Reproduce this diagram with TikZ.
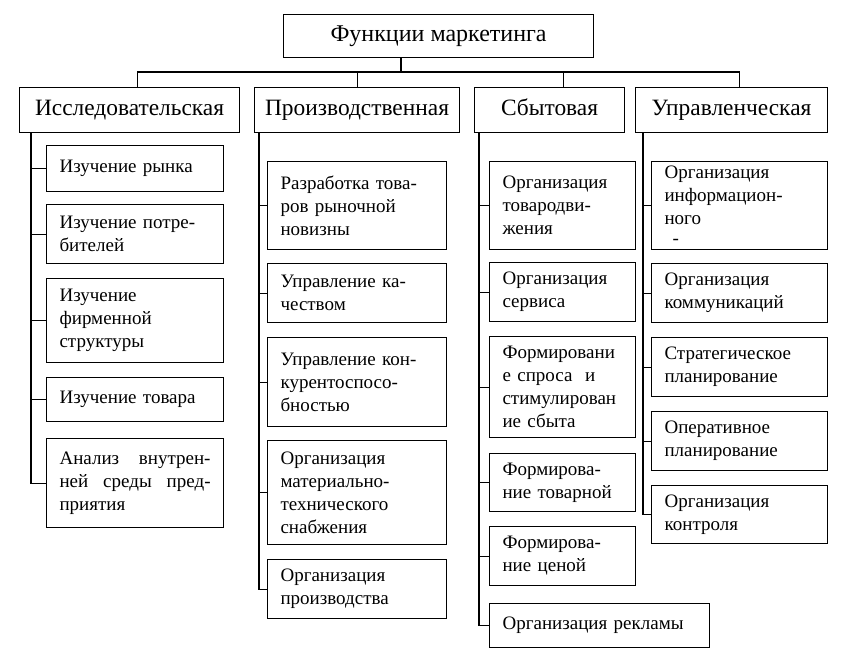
\documentclass[tikz,border=0pt]{standalone}
\usepackage{fontspec}
\setmainfont{Liberation Serif}
\usepackage{tikz}

\begin{document}
\begin{tikzpicture}[x=1pt, y=-1pt,
    hbox/.style={draw, line width=1.1pt, anchor=north west, inner sep=0pt, align=center,
      text height=16pt, text depth=5pt},
    cbox/.style={draw, line width=1.1pt, anchor=north west, inner xsep=13pt, inner ysep=2pt,
      align=left, font=\fontsize{19}{23}\selectfont},
    colA/.style={cbox, text width=151pt},
    colB/.style={cbox, text width=153pt},
    colC/.style={cbox, text width=120pt},
    colD/.style={cbox, text width=150pt},
    link/.style={line width=1.1pt}]
    \useasboundingbox (0,0) rectangle (846,656);

    % top level
    \node[hbox, minimum width=310pt, minimum height=43pt, font=\fontsize{24}{28}\selectfont]
      (top) at (283,14) {Функции маркетинга};

    % functions
    \node[hbox, minimum width=220pt, minimum height=45pt, font=\fontsize{23.4}{27}\selectfont]
      (res) at (19,87) {Исследовательская};
    \node[hbox, minimum width=205pt, minimum height=45pt, font=\fontsize{23.4}{27}\selectfont]
      (prod) at (254,87) {Производственная};
    \node[hbox, minimum width=150pt, minimum height=45pt, font=\fontsize{23.4}{27}\selectfont]
      (sale) at (474,87) {Сбытовая};
    \node[hbox, minimum width=192pt, minimum height=45pt, font=\fontsize{23.4}{27}\selectfont]
      (man) at (635,87) {Управленческая};

    % research
    \node[colA, minimum height=46pt] (a1) at (46,145) {Изучение рынка};
    \node[colA, minimum height=59pt] (a2) at (46,204) {Изучение потре-\\бителей};
    \node[colA, minimum height=84pt] (a3) at (46,278) {Изучение\\фирменной\\структуры};
    \node[colA, minimum height=44pt] (a4) at (46,377) {Изучение товара};
    \node[colA, minimum height=89pt] (a5) at (46,438)
      {Анализ\hfill внутрен-\\ней\hfill среды\hfill пред-\\приятия};

    % production
    \node[colB, minimum height=88pt] (b1) at (267,161) {Разработка това-\\ров рыночной\\новизны};
    \node[colB, minimum height=59pt] (b2) at (267,263) {Управление ка-\\чеством};
    \node[colB, minimum height=89pt] (b3) at (267,337) {Управление кон-\\курентоспосо-\\бностью};
    \node[colB, minimum height=104pt] (b4) at (267,440)
      {Организация\\материально-\\технического\\снабжения};
    \node[colB, minimum height=59pt] (b5) at (267,559) {Организация\\производства};

    % sales
    \node[colC, minimum height=88pt] (c1) at (489,161) {Организация\\товародви-\\жения};
    \node[colC, minimum height=59pt] (c2) at (489,262) {Организация\\сервиса};
    \node[colC, minimum height=101pt] (c3) at (489,336)
      {Формировани\\е спроса\ \ и\\стимулирован\\ие сбыта};
    \node[colC, minimum height=58pt] (c4) at (489,453) {Формирова-\\ние товарной};
    \node[colC, minimum height=59pt] (c5) at (489,526) {Формирова-\\ние ценой};
    \node[colC, text width=194pt, minimum height=44pt] (c6) at (489,603) {Организация рекламы};

    % management
    \node[colD, minimum height=88pt] (d1) at (651,161)
      {Организация\\информацион-\\ного\\[-3pt]\hspace*{8pt}-};
    \node[colD, minimum height=59pt] (d2) at (651,263) {Организация\\коммуникаций};
    \node[colD, minimum height=59pt] (d3) at (651,337) {Стратегическое\\планирование};
    \node[colD, minimum height=59pt] (d4) at (651,411) {Оперативное\\планирование};
    \node[colD, minimum height=58pt] (d5) at (651,485) {Организация\\контроля};

    % tree lines
    \coordinate (bus) at (401,72);
    \draw[link] (top.south -| bus) -- (bus);
    \draw[link] ([xshift=8pt]res.north) -- ([xshift=8pt]res.north |- bus)
      -- ([xshift=8pt]man.north |- bus) -- ([xshift=8pt]man.north);
    \draw[link] (prod.north) -- (prod.north |- bus);
    \draw[link] ([xshift=14pt]sale.north) -- ([xshift=14pt]sale.north |- bus);

    \coordinate (sA) at ([xshift=12pt]res.south west);
    \coordinate (sB) at ([xshift=5pt]prod.south west);
    \coordinate (sC) at ([xshift=5pt]sale.south west);
    \coordinate (sD) at ([xshift=8pt]man.south west);

    \draw[link] (sA) |- (a5.west);
    \foreach \i in {1,...,4} \draw[link] (sA |- a\i.west) -- (a\i.west);
    \draw[link] (sB) |- (b5.west);
    \foreach \i in {1,...,4} \draw[link] (sB |- b\i.west) -- (b\i.west);
    \draw[link] (sC) |- (c6.west);
    \foreach \i in {1,...,5} \draw[link] (sC |- c\i.west) -- (c\i.west);
    \draw[link] (sD) |- (d5.west);
    \foreach \i in {1,...,4} \draw[link] (sD |- d\i.west) -- (d\i.west);
\end{tikzpicture}
\end{document}
